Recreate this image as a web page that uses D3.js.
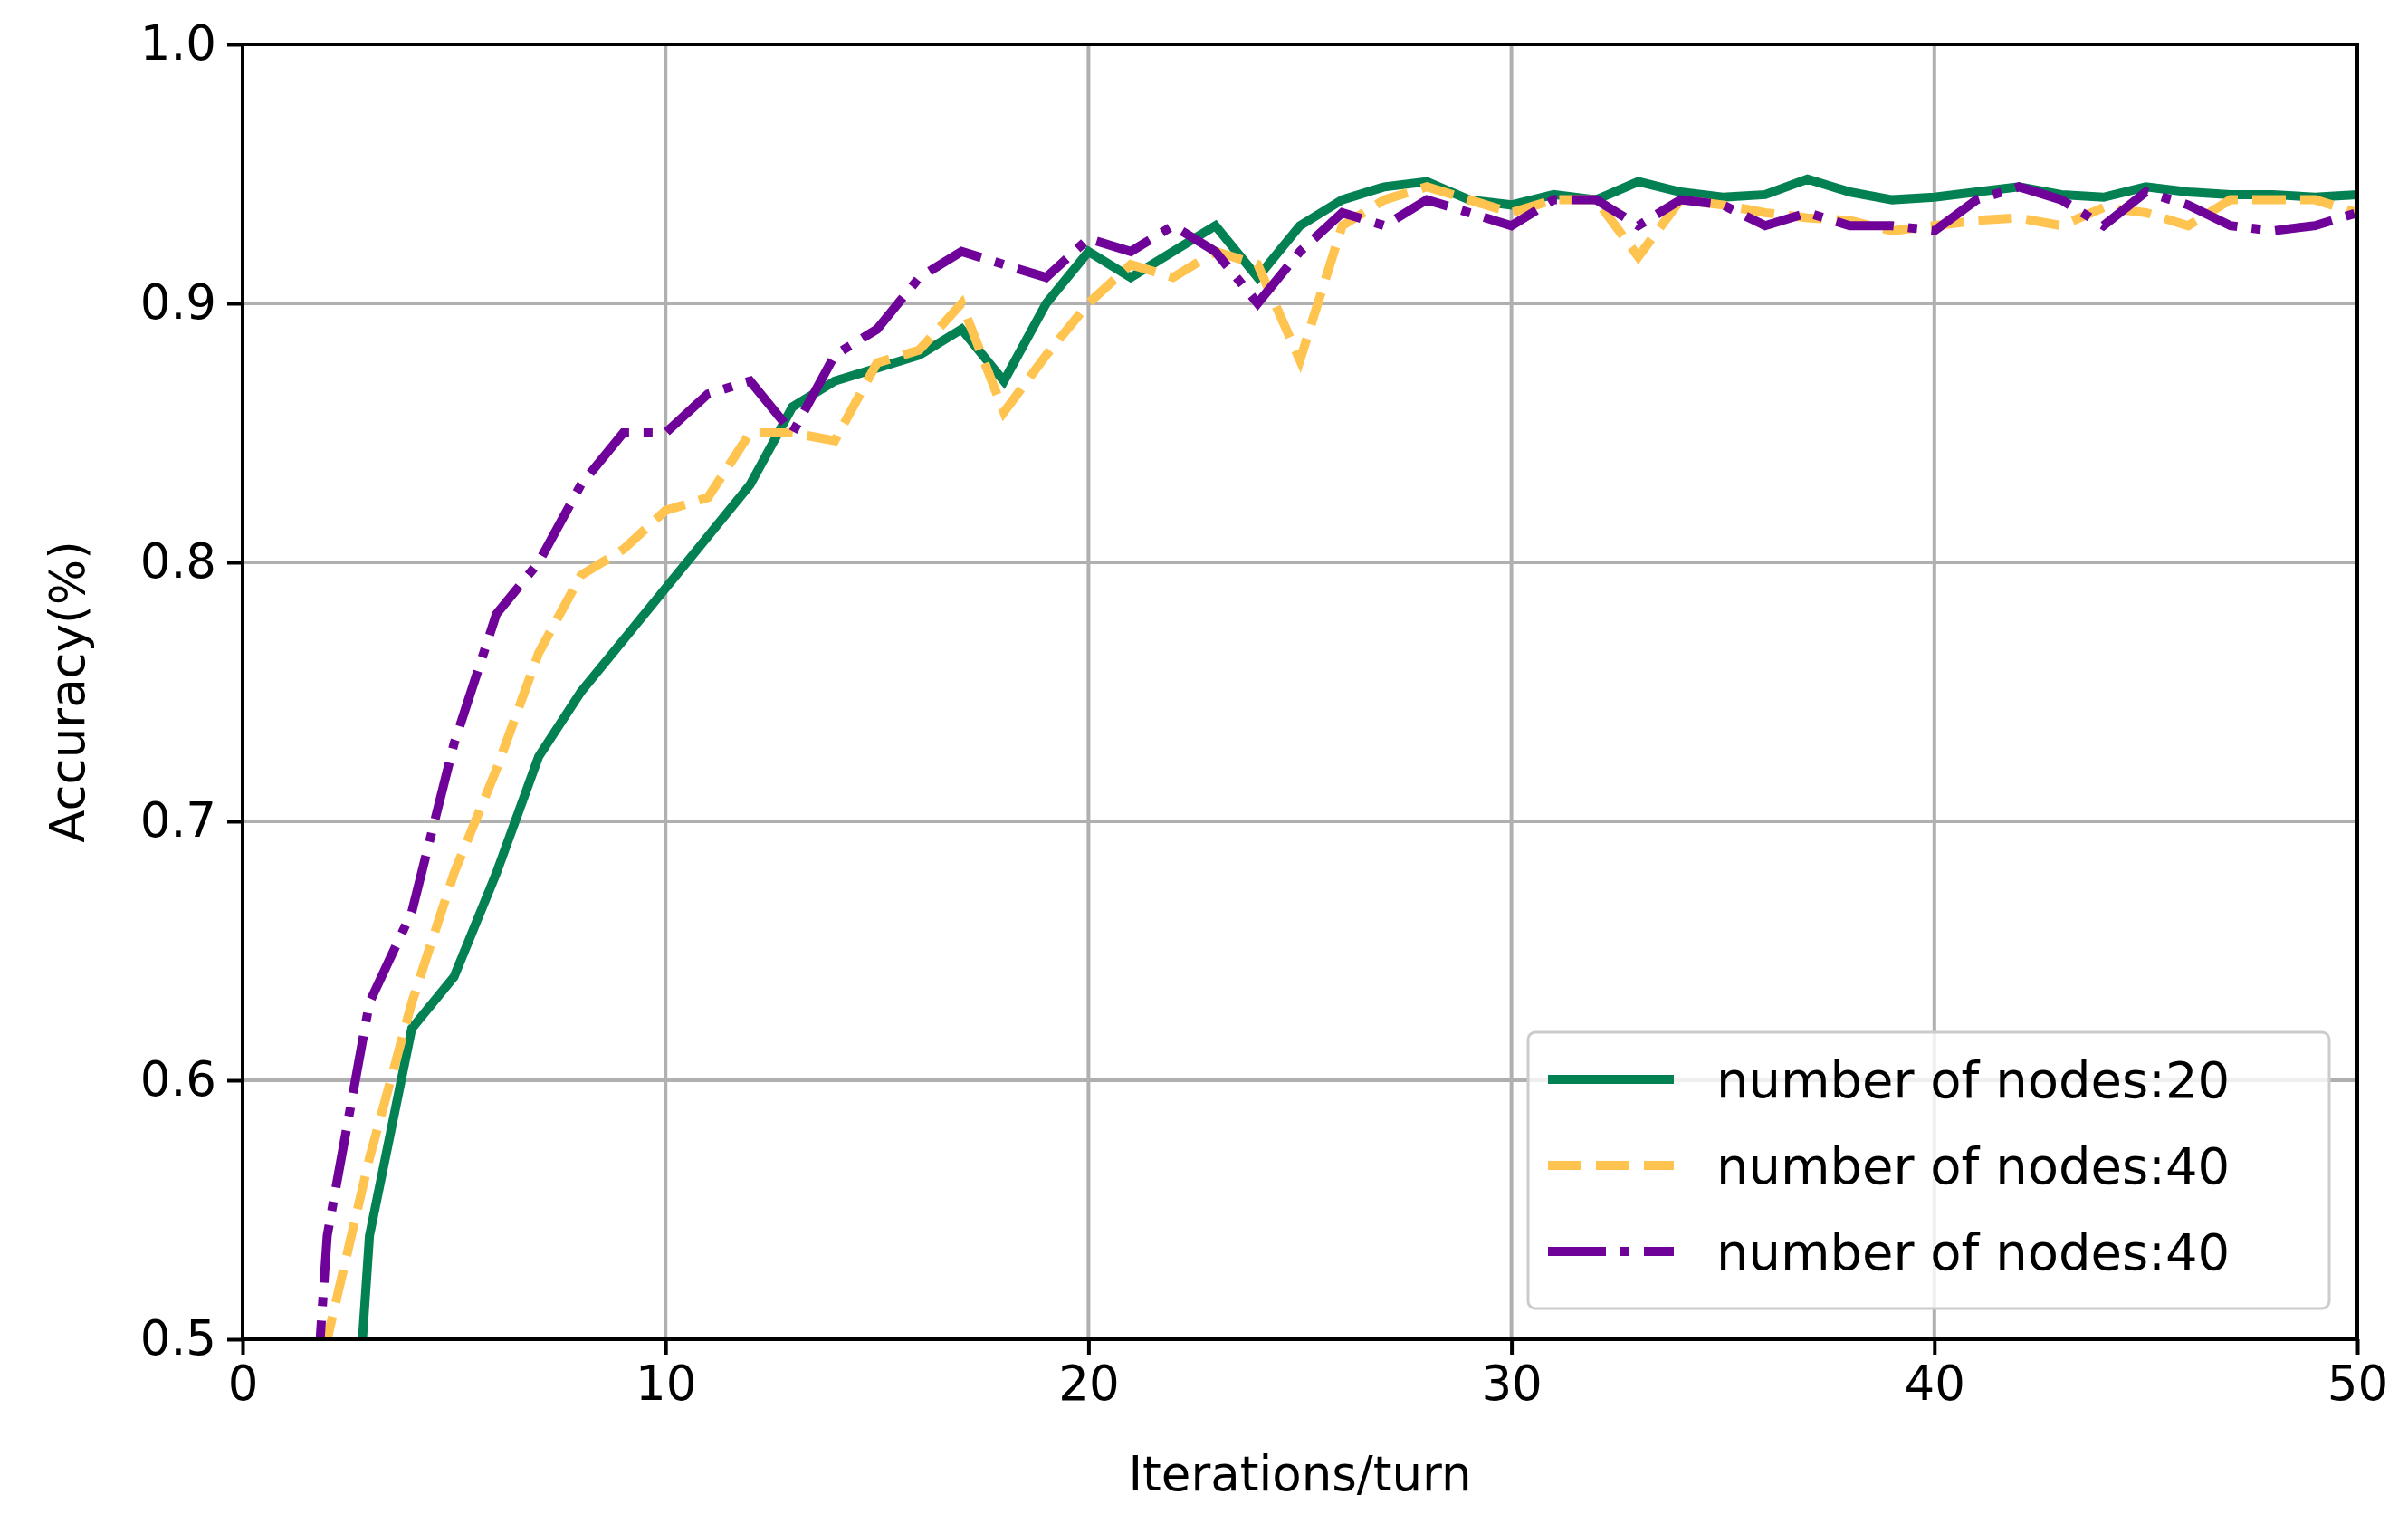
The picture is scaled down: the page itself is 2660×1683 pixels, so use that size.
<!DOCTYPE html>
<html>
<head>
<meta charset="utf-8">
<script src="https://cdn.jsdelivr.net/npm/d3@7"></script>
<style>
  body { margin: 0; background: #fff; }
  text { font-family: "DejaVu Sans", sans-serif; }
</style>
</head>
<body>
<div id="chart"></div>
<script>
// data
const iterations = d3.range(1, 51);
const nodes20 = [0.20, 0.30, 0.54, 0.62, 0.64, 0.68, 0.725, 0.75, 0.77, 0.79,
  0.81, 0.83, 0.86, 0.87, 0.875, 0.88, 0.89, 0.87, 0.90, 0.92,
  0.91, 0.92, 0.93, 0.91, 0.93, 0.94, 0.945, 0.947, 0.94, 0.938,
  0.942, 0.94, 0.947, 0.943, 0.941, 0.942, 0.948, 0.943, 0.94, 0.941,
  0.943, 0.945, 0.942, 0.941, 0.945, 0.943, 0.942, 0.942, 0.941, 0.942];
const nodes40a = [0.20, 0.50, 0.57, 0.63, 0.68, 0.72, 0.765, 0.795, 0.805, 0.82,
  0.825, 0.85, 0.85, 0.847, 0.877, 0.882, 0.90, 0.858, 0.88, 0.90,
  0.915, 0.91, 0.92, 0.915, 0.878, 0.93, 0.94, 0.945, 0.94, 0.935,
  0.94, 0.94, 0.918, 0.94, 0.938, 0.935, 0.933, 0.932, 0.928, 0.93,
  0.932, 0.933, 0.93, 0.937, 0.935, 0.93, 0.94, 0.94, 0.94, 0.935];
const nodes40b = [0.30, 0.54, 0.63, 0.665, 0.73, 0.78, 0.80, 0.83, 0.85, 0.85,
  0.865, 0.87, 0.85, 0.88, 0.89, 0.91, 0.92, 0.915, 0.91, 0.925,
  0.92, 0.93, 0.92, 0.90, 0.92, 0.935, 0.93, 0.94, 0.935, 0.93,
  0.94, 0.94, 0.93, 0.94, 0.938, 0.93, 0.935, 0.93, 0.93, 0.928,
  0.94, 0.945, 0.94, 0.93, 0.943, 0.938, 0.93, 0.928, 0.93, 0.935];
const xTicks = [0, 10, 20, 30, 40, 50];
const yTicks = [0.5, 0.6, 0.7, 0.8, 0.9, 1.0];

const series = [
  {label: "number of nodes:20", values: nodes20, color: "#038153", dash: null},
  {label: "number of nodes:40", values: nodes40a, color: "#ffc34f", dash: "37,16"},
  {label: "number of nodes:40", values: nodes40b, color: "#6f0399", dash: "64,16,10,16"}
];

const W = 2660, H = 1683;
const margin = {top: 49, right: 56, bottom: 204, left: 268};
const width = W - margin.left - margin.right,
      height = H - margin.top - margin.bottom;

const svg = d3.select("#chart").append("svg")
  .attr("width", W).attr("height", H);
const g = svg.append("g")
  .attr("transform", `translate(${margin.left},${margin.top})`);

const x = d3.scaleLinear().domain([0, 50]).range([0, width]);
const y = d3.scaleLinear().domain([0.5, 1.0]).range([height, 0]);

// grid
g.append("g").selectAll("line").data(xTicks).join("line")
  .attr("x1", d => x(d)).attr("x2", d => x(d))
  .attr("y1", 0).attr("y2", height)
  .attr("stroke", "#b0b0b0").attr("stroke-width", 4);
g.append("g").selectAll("line").data(yTicks).join("line")
  .attr("y1", d => y(d)).attr("y2", d => y(d))
  .attr("x1", 0).attr("x2", width)
  .attr("stroke", "#b0b0b0").attr("stroke-width", 4);

// lines
g.append("clipPath").attr("id", "clip")
  .append("rect").attr("width", width).attr("height", height);
const line = d3.line().x((d, i) => x(iterations[i])).y(d => y(d));
g.append("g").attr("clip-path", "url(#clip)")
  .selectAll("path").data(series).join("path")
  .attr("d", d => line(d.values))
  .attr("fill", "none")
  .attr("stroke", d => d.color)
  .attr("stroke-width", 10)
  .attr("stroke-dasharray", d => d.dash);

// axes
const xAxis = g.append("g").attr("transform", `translate(0,${height})`)
  .call(d3.axisBottom(x).tickValues(xTicks).tickFormat(d3.format("d")).tickSize(17).tickPadding(12));
const yAxis = g.append("g")
  .call(d3.axisLeft(y).tickValues(yTicks).tickFormat(d3.format(".1f")).tickSize(17).tickPadding(12));
[xAxis, yAxis].forEach(a => {
  a.select(".domain").remove();
  a.selectAll(".tick line").attr("stroke", "#000").attr("stroke-width", 4);
  a.selectAll("text").attr("font-size", 53).attr("fill", "#000")
    .style("font-family", "DejaVu Sans");
});
g.append("rect").attr("width", width).attr("height", height)
  .attr("fill", "none").attr("stroke", "#000").attr("stroke-width", 4);

// axis labels
g.append("text")
  .attr("x", width / 2).attr("y", height + 167)
  .attr("text-anchor", "middle").attr("font-size", 53)
  .text("Iterations/turn");
g.append("text")
  .attr("transform", "rotate(-90)")
  .attr("x", -height / 2).attr("y", -175)
  .attr("text-anchor", "middle").attr("font-size", 53)
  .text("Accuracy(%)");

// legend
const lg = g.append("g").attr("transform", `translate(${1688 - margin.left},${1140 - margin.top})`);
lg.append("rect").attr("width", 885).attr("height", 305).attr("rx", 8)
  .attr("fill", "#fff").attr("fill-opacity", 0.8)
  .attr("stroke", "#cccccc").attr("stroke-width", 3);
const items = lg.selectAll("g.item").data(series).join("g")
  .attr("transform", (d, i) => `translate(0,${52 + i * 95})`);
items.append("line").attr("x1", 22).attr("x2", 161)
  .attr("stroke", d => d.color).attr("stroke-width", 10)
  .attr("stroke-dasharray", d => d.dash);
items.append("text").attr("x", 208).attr("dy", "0.35em")
  .attr("font-size", 56).text(d => d.label);
</script>
</body>
</html>
